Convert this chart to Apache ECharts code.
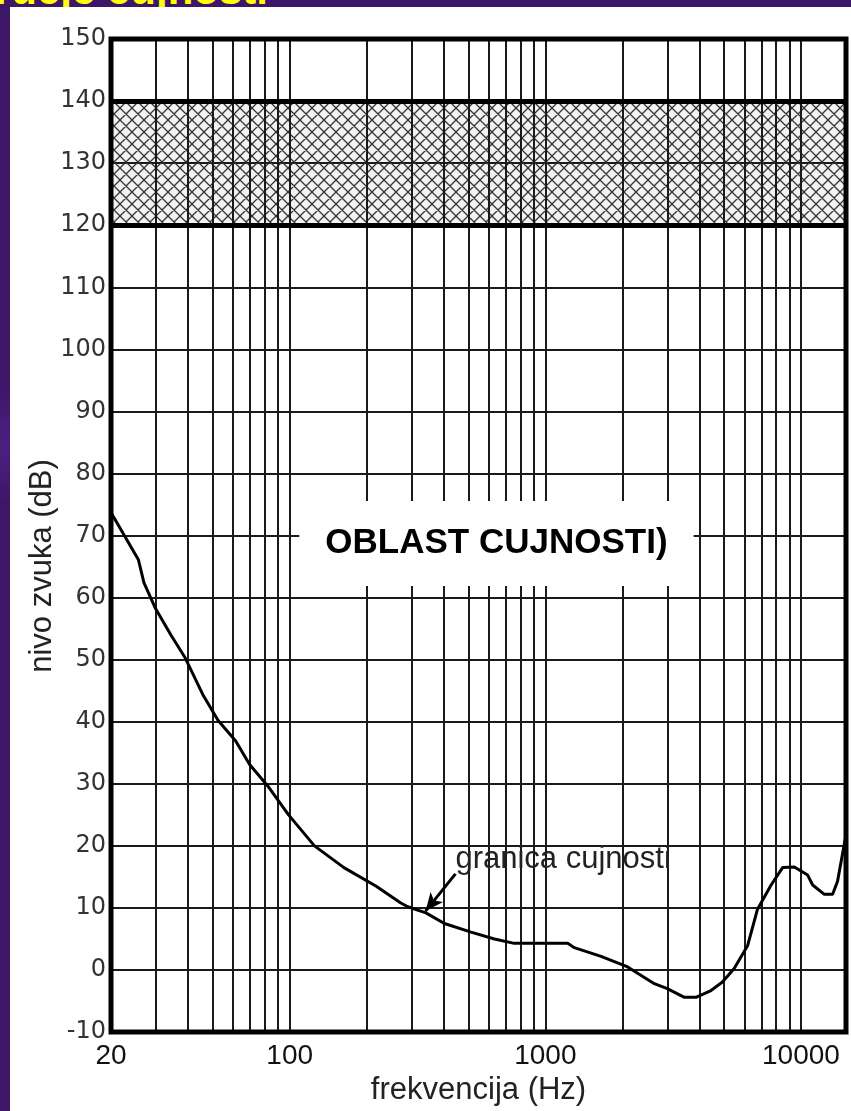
<!DOCTYPE html>
<html><head><meta charset="utf-8">
<script src="https://cdn.jsdelivr.net/npm/echarts@6/dist/echarts.min.js"></script>
<style>
html,body{margin:0;padding:0;width:851px;height:1111px;overflow:hidden;}
body{background:radial-gradient(circle at 3px 40%, #4d1f80 0, rgba(0,0,0,0) 60px), #3e1668;position:relative;}
#title{position:absolute;right:583px;top:-31px;white-space:nowrap;font:bold 42px "Liberation Sans",Arial,sans-serif;color:#ffff00;line-height:42px;}
#panel{position:absolute;left:10px;top:7px;width:841px;height:1104px;background:#fff;}
#chart{position:absolute;left:0;top:0;width:851px;height:1111px;}
</style></head><body>
<div id="title">Područje čujnosti</div>
<div id="panel"></div>
<div id="chart"></div>
<script>
// ---- data ----
const FREQ = [20, 25.6, 26.9, 29.9, 34.4, 39, 45.7, 52.5, 61.5, 69.7, 83, 99, 125, 163, 218, 272, 290, 341, 403, 512, 632, 756, 1223, 1298, 1652, 2099, 2669, 3000, 3499, 3881, 4446, 4941, 5487, 6180, 6760, 7640, 8475, 9417, 10620, 11110, 12340, 13300, 13900, 15000];
const LEVEL = [73.7, 66.1, 62.4, 58.2, 53.9, 50.3, 44.4, 40.2, 36.9, 33.1, 29.4, 25, 20, 16.5, 13.5, 10.8, 10.2, 9.2, 7.5, 6.1, 5.0, 4.3, 4.3, 3.6, 2.2, 0.5, -2.2, -3.0, -4.4, -4.4, -3.3, -1.9, 0.3, 3.9, 9.8, 13.7, 16.5, 16.6, 15.3, 13.7, 12.2, 12.2, 14.3, 21.8];
const X_LABELS = [20, 100, 1000, 10000];
const X_GRID = [30, 40, 50, 60, 70, 80, 90, 100, 200, 300, 400, 500, 600, 700, 800, 900, 1000, 2000, 3000, 4000, 5000, 6000, 7000, 8000, 9000, 10000];
const X_MIN = 20, X_MAX = 15000;
const Y_MIN = -10, Y_MAX = 150, Y_STEP = 10;
const PAIN_BAND = [120, 140];
const AREA_TEXT = 'OBLAST CUJNOSTI)';
const AREA_AT = [644, 68.7];
const CURVE_TEXT = 'granica cujnosti';
const CURVE_TEXT_AT = [445, 17.8];
const ARROW_FROM = [445, 15.5];
const ARROW_TO = [340, 9.5];
const X_NAME = 'frekvencija (Hz)';
const Y_NAME = 'nivo zvuka (dB)';

function hatchCanvas() {
  const s = 12;
  const c = document.createElement('canvas');
  c.width = s; c.height = s;
  const g = c.getContext('2d');
  g.fillStyle = 'rgba(0,0,0,0.05)';
  g.fillRect(0, 0, s, s);
  g.strokeStyle = '#333';
  g.lineWidth = 1.3;
  g.beginPath();
  for (let k = -s; k <= s; k += s) {
    g.moveTo(k, 0); g.lineTo(k + s, s);
    g.moveTo(k, s); g.lineTo(k + s, 0);
  }
  g.stroke();
  return c;
}

const chart = echarts.init(document.getElementById('chart'), null, {renderer: 'canvas'});
const narrow = '"Liberation Sans Narrow","Arial Narrow","Liberation Sans",Arial,sans-serif';
const gridLines = X_GRID.map(f => ({xAxis: f}));
const bandLines = PAIN_BAND.map(v => ({yAxis: v, lineStyle: {width: 5, color: '#000'}}));

chart.setOption({
  animation: false,
  backgroundColor: 'transparent',
  grid: {left: 111, right: 5, top: 39, bottom: 78, show: true, z: 10,
    backgroundColor: 'transparent', borderColor: '#000', borderWidth: 5},
  xAxis: {
    type: 'log', logBase: 10, min: X_MIN, max: X_MAX,
    axisLine: {show: false}, axisTick: {show: false},
    splitLine: {show: false}, minorSplitLine: {show: false},
    axisLabel: {customValues: X_LABELS, formatter: v => String(Math.round(v)),
      color: '#111', fontFamily: narrow, fontSize: 28, margin: 10},
    name: X_NAME, nameLocation: 'middle', nameGap: 40,
    nameTextStyle: {color: '#222', fontFamily: '"Liberation Sans",Arial,sans-serif', fontSize: 31}
  },
  yAxis: {
    type: 'value', min: Y_MIN, max: Y_MAX, interval: Y_STEP,
    axisLine: {show: false}, axisTick: {show: false},
    splitLine: {show: true, lineStyle: {color: '#1a1a1a', width: 2}},
    axisLabel: {color: '#333', fontFamily: '"DejaVu Sans",sans-serif', fontSize: 24, margin: 5}
  },
  graphic: [{
    type: 'text', x: 42, y: 566, rotation: Math.PI / 2, z: 20,
    style: {text: Y_NAME, fill: '#222', font: '31px "Liberation Sans",Arial,sans-serif',
      align: 'center', verticalAlign: 'middle'}
  }],
  series: [{
    type: 'line', z: 10,
    data: FREQ.map((f, i) => [f, LEVEL[i]]),
    showSymbol: false, symbol: 'none', smooth: false,
    lineStyle: {color: '#000', width: 3},
    markArea: {
      silent: true, z: 1,
      itemStyle: {color: {image: hatchCanvas(), repeat: 'repeat'}},
      data: [[{yAxis: PAIN_BAND[0]}, {yAxis: PAIN_BAND[1]}]]
    },
    markLine: {
      silent: true, z: 5, symbol: ['none', 'none'], label: {show: false},
      lineStyle: {color: '#1a1a1a', width: 2, type: 'solid'},
      data: gridLines.concat(bandLines).concat([[
        {coord: ARROW_FROM, symbol: 'none'},
        {coord: ARROW_TO, symbol: 'arrow', symbolSize: [12, 18]}
      ]].map(p => { p[0].lineStyle = {width: 3, color: '#000'}; return p; }))
    },
    markPoint: {
      silent: true, z: 8, symbol: 'circle', symbolSize: 0,
      data: [
        {coord: AREA_AT, label: {show: true, position: 'inside', formatter: AREA_TEXT,
          backgroundColor: '#fff', padding: [25, 26, 25, 26],
          color: '#000', fontWeight: 'bold', fontSize: 35, fontFamily: '"Liberation Sans",Arial,sans-serif'}},
        {coord: CURVE_TEXT_AT, label: {show: true, position: 'right', distance: 0, formatter: CURVE_TEXT,
          color: '#222', fontSize: 31, fontFamily: '"Liberation Sans",Arial,sans-serif'}}
      ]
    }
  }]
});
</script>
</body></html>
